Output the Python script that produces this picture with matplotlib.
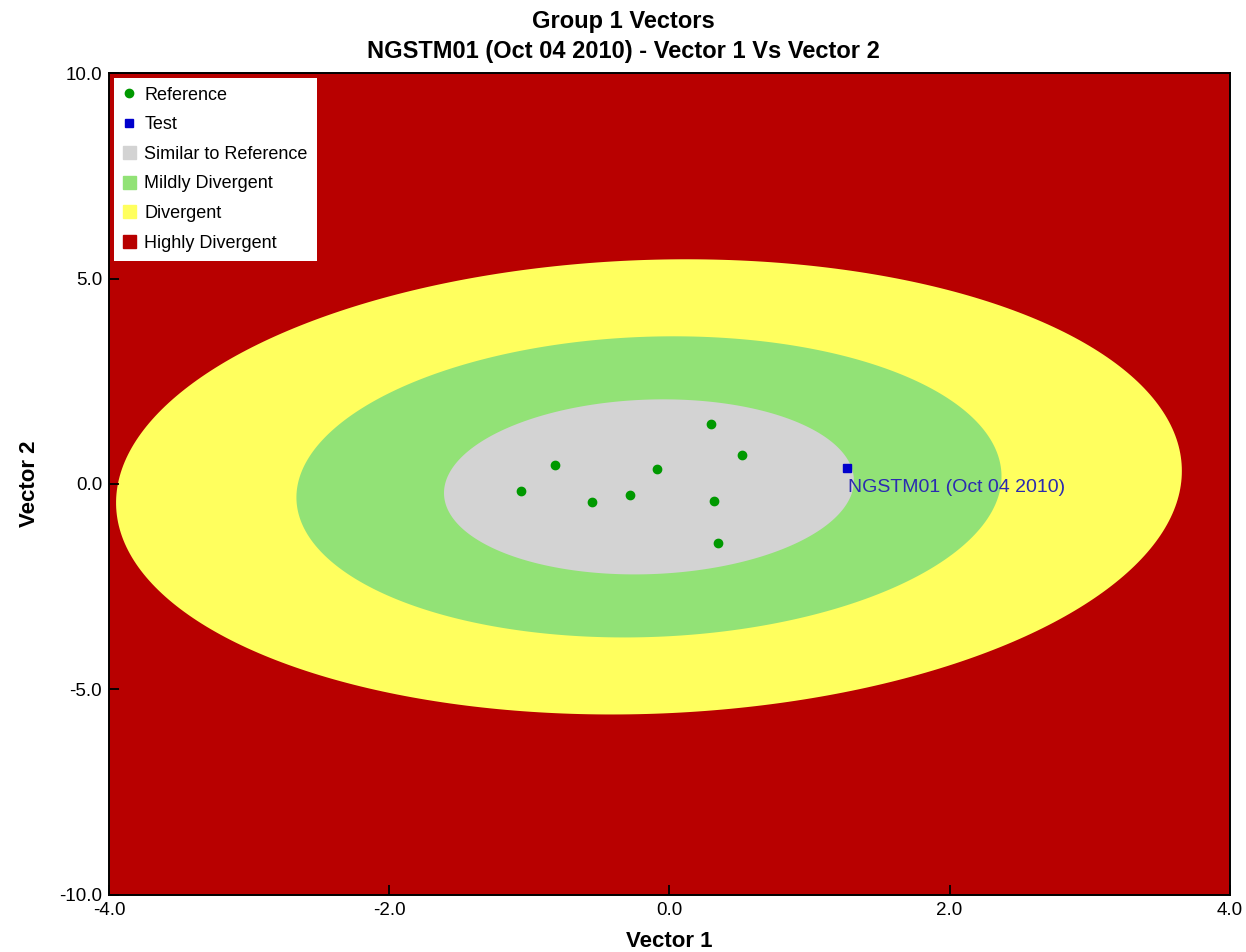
import numpy as np
import matplotlib.pyplot as plt
from matplotlib.lines import Line2D
from matplotlib.patches import Patch

plt.rcParams['font.family'] = ['Liberation Sans', 'DejaVu Sans']

# reference samples (vector 1, vector 2)
ref_v1 = [0.30, 0.52, -0.82, -0.09, -1.06, -0.55, -0.28, 0.32, 0.35]
ref_v2 = [1.45, 0.71, 0.47, 0.37, -0.16, -0.45, -0.26, -0.41, -1.43]

# test sample
test_name = 'NGSTM01 (Oct 04 2010)'
test_v1 = 1.265
test_v2 = 0.38

# region boundaries: centre, spread, correlation and scale of each zone
centre = (-0.146, -0.07)
spread = (1.463, 2.13)
corr = 0.07
zone_scale = [2.60, 1.72, 1.0]
zone_names = ['Divergent', 'Mildly Divergent', 'Similar to Reference']
zone_colors = ['#FFFF5E', '#92E276', '#D3D3D3']
outer_name = 'Highly Divergent'
outer_color = '#B80000'


def zone_outline(k, n=400):
    t = np.linspace(0, 2 * np.pi, n)
    x = centre[0] + k * spread[0] * np.cos(t)
    y = centre[1] + k * spread[1] * (corr * np.cos(t) + np.sqrt(1 - corr ** 2) * np.sin(t))
    return x, y


fig = plt.figure(figsize=(12.46, 9.52), dpi=100)
ax = fig.add_axes([0.0875, 0.0599, 0.8995, 0.8634])
ax.set_facecolor(outer_color)

for k, c in zip(zone_scale, zone_colors):
    xs, ys = zone_outline(k)
    ax.fill(xs, ys, color=c, lw=0, zorder=1)

ax.plot(ref_v1, ref_v2, 'o', color='#009900', ms=6, zorder=3)
ax.plot([test_v1], [test_v2], 's', color='#0000CC', ms=6, zorder=3)
ax.annotate(test_name, (test_v1, test_v2), xytext=(1, -8), textcoords='offset points',
            ha='left', va='top', color='#2B2BB0', fontsize=14, zorder=4)

ax.set_xlim(-4, 4)
ax.set_ylim(-10, 10)
ax.set_xticks([-4, -2, 0, 2, 4])
ax.set_yticks([-10, -5, 0, 5, 10])
ax.set_xticklabels(['%.1f' % v for v in ax.get_xticks()])
ax.set_yticklabels(['%.1f' % v for v in ax.get_yticks()])
ax.tick_params(direction='in', length=7, width=1.3, labelsize=13.5, pad=5)
for s in ax.spines.values():
    s.set_linewidth(1.4)

ax.set_xlabel('Vector 1', fontsize=16, fontweight='bold', labelpad=9)
ax.set_ylabel('Vector 2', fontsize=16, fontweight='bold', labelpad=14)
fig.suptitle('Group 1 Vectors\nNGSTM01 (Oct 04 2010) - Vector 1 Vs Vector 2',
             fontsize=17, fontweight='bold', y=0.99, va='top', linespacing=1.4)

handles = [
    Line2D([], [], marker='o', ls='', color='#009900', ms=6),
    Line2D([], [], marker='s', ls='', color='#0000CC', ms=6),
    Patch(color=zone_colors[2]),
    Patch(color=zone_colors[1]),
    Patch(color=zone_colors[0]),
    Patch(color=outer_color),
]
labels = ['Reference', 'Test', zone_names[2], zone_names[1], zone_names[0], outer_name]
leg = ax.legend(handles, labels, loc='upper left', fontsize=13, frameon=True, fancybox=False,
                framealpha=1, edgecolor='white', borderaxespad=0.25, handlelength=0.75,
                handleheight=0.75, handletextpad=0.45, labelspacing=0.7, borderpad=0.5)
leg.get_frame().set_linewidth(0)

fig.savefig('out.png', dpi=100)
